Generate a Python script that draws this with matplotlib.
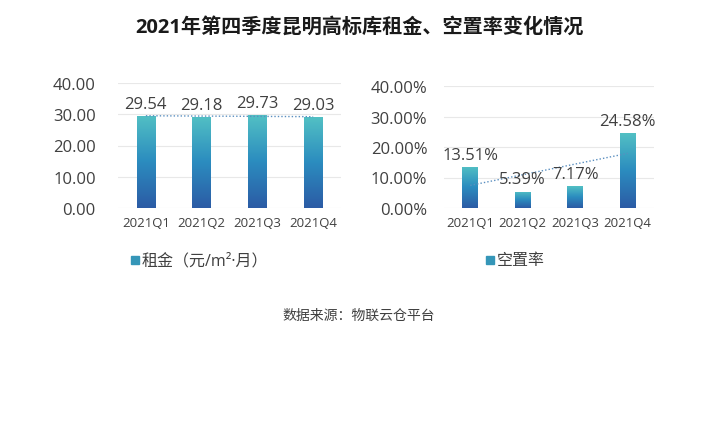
import numpy as np
import matplotlib
matplotlib.use("Agg")
import matplotlib.pyplot as plt
from matplotlib.colors import LinearSegmentedColormap
from matplotlib.patches import Rectangle

plt.rcParams['font.family'] = ['Open Sans', 'Noto Sans CJK SC', 'DejaVu Sans']

quarters = ["2021Q1", "2021Q2", "2021Q3", "2021Q4"]
rent = [29.54, 29.18, 29.73, 29.03]
vacancy = [13.51, 5.39, 7.17, 24.58]
rent_ticks = [0, 10, 20, 30, 40]
vac_ticks = [0, 10, 20, 30, 40]

title = "2021年第四季度昆明高标库租金、空置率变化情况"
source = "数据来源：物联云仓平台"
rent_legend = "租金（元/m²·月）"
vac_legend = "空置率"

TXT = "#404040"
cmap = LinearSegmentedColormap.from_list("g", ["#2c5ba5", "#2b8cbf", "#52c0c4"])

W, H = 718, 439
fig = plt.figure(figsize=(W / 100, H / 100), dpi=100)


def fx(px):
    return px / W


def fy(py):
    return 1 - py / H


def gradient_bars(ax, values, width):
    grad = np.linspace(0, 1, 256).reshape(-1, 1)
    bars = ax.bar(range(len(values)), values, width=width, color="none", zorder=2)
    for b in bars:
        x0, y0 = b.get_x(), b.get_y()
        w, h = b.get_width(), b.get_height()
        im = ax.imshow(grad, cmap=cmap, origin="lower", aspect="auto",
                       extent=[x0, x0 + w, y0, y0 + h], zorder=2)
        im.set_clip_path(b)
    return bars


def style(ax, ticks, fmt, ypad):
    ax.set_xlim(-0.5, 3.5)
    ax.set_ylim(0, 40)
    ax.set_yticks(ticks)
    ax.set_yticklabels([fmt(t) for t in ticks], fontsize=12, color=TXT)
    ax.set_xticks(range(4))
    ax.set_xticklabels(quarters, fontsize=9.5, color=TXT)
    ax.tick_params(axis="both", length=0)
    ax.tick_params(axis="y", pad=ypad)
    ax.tick_params(axis="x", pad=6)
    for s in ax.spines.values():
        s.set_visible(False)
    ax.grid(axis="y", color="#e8e8e8", linewidth=0.8, zorder=0)
    ax.set_axisbelow(True)


x = np.arange(4)

# Left chart: rent
ax1 = fig.add_axes([fx(118), fy(209), fx(341) - fx(118), fy(84) - fy(209)])
gradient_bars(ax1, rent, 0.33)
style(ax1, rent_ticks, lambda t: f"{t:.2f}", 16)
c1 = np.polyfit(x, rent, 1)
ax1.plot([0, 3], np.polyval(c1, [0, 3]), linestyle=(0, (1, 1.5)), color="#5a8fc0",
         linewidth=1.0, zorder=3)
for i, v in enumerate(rent):
    ax1.annotate(f"{v:.2f}", (i, v), xytext=(0, 3), textcoords="offset points",
                 ha="center", va="bottom", fontsize=12, color=TXT)

# Right chart: vacancy
ax2 = fig.add_axes([fx(444), fy(209), fx(654) - fx(444), fy(87) - fy(209)])
gradient_bars(ax2, vacancy, 0.3)
style(ax2, vac_ticks, lambda t: f"{t:.2f}%", 12)
c2 = np.polyfit(x, vacancy, 1)
ax2.plot([0, 3], np.polyval(c2, [0, 3]), linestyle=(0, (1, 1.5)), color="#5a8fc0",
         linewidth=1.0, zorder=3)
for i, v in enumerate(vacancy):
    ax2.annotate(f"{v:.2f}%", (i, v), xytext=(0, 3), textcoords="offset points",
                 ha="center", va="bottom", fontsize=12, color=TXT)

# Legends
for (px, py, label) in [(131, 261, rent_legend), (486, 261, vac_legend)]:
    fig.add_artist(Rectangle((fx(px), fy(py) - 4 / H), 8 / W, 8 / H,
                             transform=fig.transFigure, color="#3596b8"))
    fig.text(fx(px + 11), fy(py), label, fontsize=11.5, color=TXT, ha="left", va="center")

fig.text(0.5, fy(28), title, fontsize=14.5, fontweight="bold", color="#1a1a1a",
         ha="center", va="center")
fig.text(0.5, fy(316), source, fontsize=10, color=TXT, ha="center", va="center")

fig.savefig("out.png", dpi=100, facecolor="white")
